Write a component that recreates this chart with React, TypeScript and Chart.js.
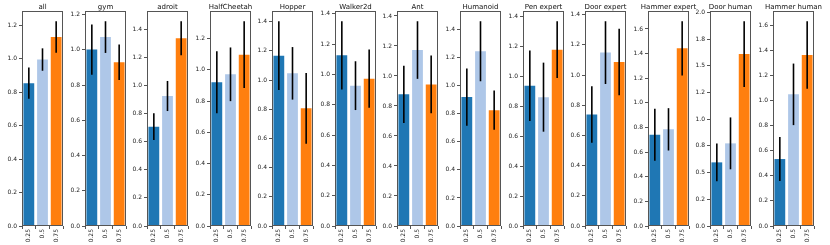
import React, { useEffect, useRef } from "react";
import { Chart, registerables } from "chart.js";

Chart.register(...registerables);

// ---- data ----
const panelTitles = [
  "all", "gym", "adroit", "HalfCheetah", "Hopper", "Walker2d", "Ant",
  "Humanoid", "Pen expert", "Door expert", "Hammer expert", "Door human", "Hammer human",
];
const ratioLabels = ["0.25", "0.5", "0.75"];

const mean025 = [0.854, 1.002, 0.707, 0.921, 1.167, 1.126, 0.878, 0.919, 0.938, 0.739, 0.741, 0.596, 0.533];
const err025 = [0.094, 0.143, 0.095, 0.199, 0.236, 0.225, 0.191, 0.204, 0.236, 0.187, 0.212, 0.177, 0.175];
const mean050 = [0.995, 1.073, 0.925, 0.972, 1.046, 0.926, 1.173, 1.246, 0.862, 1.149, 0.785, 0.774, 1.048];
const err050 = [0.067, 0.090, 0.107, 0.172, 0.180, 0.161, 0.192, 0.214, 0.231, 0.208, 0.172, 0.243, 0.245];
const mean075 = [1.130, 0.930, 1.336, 1.098, 0.806, 0.972, 0.944, 0.826, 1.180, 1.087, 1.443, 1.610, 1.361];
const err075 = [0.094, 0.101, 0.121, 0.214, 0.243, 0.192, 0.193, 0.140, 0.190, 0.220, 0.220, 0.308, 0.269];

const yTickSteps = [0.2, 0.2, 0.2, 0.2, 0.2, 0.2, 0.2, 0.2, 0.2, 0.2, 0.2, 0.25, 0.2];
const doorHumanTickLabels = ["0.0", "0.2", "0.5", "0.8", "1.0", "1.2", "1.5", "1.8", "2.0"];

const barColors = ["#1f77b4", "#aec7e8", "#ff7f0e"];

// ---- layout ----
const FIRST_LEFT = 22;
const PITCH = 62.58;
const AXIS_W = 22;
const AREA_W = 41;
const RIGHT_PAD = 13;
const CANVAS_W = AXIS_W + AREA_W + RIGHT_PAD;
const CANVAS_H = 245;
const FONT = "DejaVu Sans";

function Panel({ idx }: { idx: number }) {
  const ref = useRef<HTMLCanvasElement | null>(null);

  useEffect(() => {
    if (!ref.current) return;
    const means = [mean025[idx], mean050[idx], mean075[idx]];
    const errs = [err025[idx], err050[idx], err075[idx]];
    const top = Math.max(...means.map((m, i) => m + errs[i]));
    const yMax = top * 1.05;
    const customLabels = panelTitles[idx] === "Door human" ? doorHumanTickLabels : null;
    const title = panelTitles[idx];

    const decor = {
      id: "decor",
      afterDatasetsDraw(chart: any) {
        const ctx = chart.ctx;
        const meta = chart.getDatasetMeta(0);
        const ys = chart.scales.y;
        ctx.save();
        ctx.strokeStyle = "#000";
        ctx.lineWidth = 1.6;
        meta.data.forEach((bar: any, i: number) => {
          const x = bar.x;
          ctx.beginPath();
          ctx.moveTo(x, ys.getPixelForValue(means[i] + errs[i]));
          ctx.lineTo(x, ys.getPixelForValue(means[i] - errs[i]));
          ctx.stroke();
        });
        ctx.restore();
      },
      afterDraw(chart: any) {
        const ctx = chart.ctx;
        const a = chart.chartArea;
        ctx.save();
        ctx.strokeStyle = "#555";
        ctx.lineWidth = 1;
        ctx.strokeRect(a.left + 0.5, a.top + 0.5, a.right - a.left - 1, a.bottom - a.top - 1);
        ctx.fillStyle = "#111";
        ctx.font = `7px "${FONT}"`;
        ctx.textAlign = "center";
        ctx.textBaseline = "alphabetic";
        ctx.fillText(title, (a.left + a.right) / 2, a.top - 2.5);
        ctx.restore();
      },
    };

    const chart = new Chart(ref.current, {
      type: "bar",
      data: {
        labels: ratioLabels,
        datasets: [
          {
            data: means,
            backgroundColor: barColors,
            borderWidth: 0,
            barPercentage: 0.79,
            categoryPercentage: 1,
          },
        ],
      },
      options: {
        animation: false,
        responsive: false,
        devicePixelRatio: 1,
        events: [],
        layout: { padding: { top: 11, right: RIGHT_PAD, left: 0, bottom: 0 } },
        plugins: { legend: { display: false }, tooltip: { enabled: false }, title: { display: false } },
        scales: {
          x: {
            type: "category",
            afterFit(scale: any) {
              scale.height = 19;
            },
            grid: { drawOnChartArea: false, drawTicks: true, tickLength: 3, color: "#555" },
            border: { display: false },
            ticks: {
              autoSkip: false,
              minRotation: 90,
              maxRotation: 90,
              padding: 0,
              color: "#222",
              font: { family: FONT, size: 6 },
            },
          },
          y: {
            type: "linear",
            min: 0,
            max: yMax,
            afterFit(scale: any) {
              scale.width = AXIS_W;
            },
            grid: { drawOnChartArea: false, drawTicks: true, tickLength: 3, color: "#555" },
            border: { display: false },
            ticks: {
              stepSize: yTickSteps[idx],
              includeBounds: false,
              padding: 2,
              color: "#222",
              font: { family: FONT, size: 6 },
              callback: (value: any, index: number) =>
                customLabels ? customLabels[index] : Number(value).toFixed(1),
            },
          },
        },
      },
      plugins: [decor],
    });
    return () => chart.destroy();
  }, [idx]);

  const areaLeft = Math.round(FIRST_LEFT + idx * PITCH);
  return (
    <div style={{ position: "absolute", left: areaLeft - AXIS_W, top: 0, width: CANVAS_W, height: CANVAS_H }}>
      <canvas ref={ref} width={CANVAS_W} height={CANVAS_H} style={{ display: "block" }} />
    </div>
  );
}

export default function App() {
  return (
    <div style={{ position: "absolute", left: 0, top: 0, width: 830, height: 245, background: "#fff", overflow: "hidden" }}>
      {panelTitles.map((_, i) => (
        <Panel key={i} idx={i} />
      ))}
    </div>
  );
}
